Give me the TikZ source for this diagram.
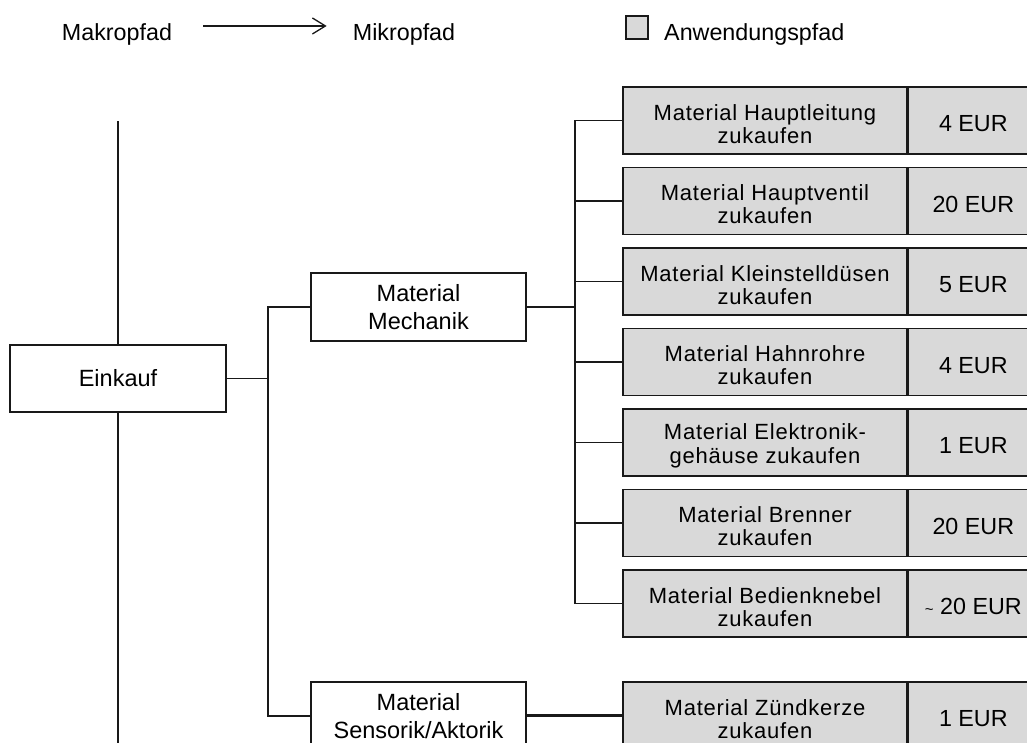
\documentclass[tikz,border=0pt]{standalone}
\usepackage{fontspec}
\setmainfont{Liberation Sans}
\newfontfamily\leaffont[LetterSpace=3.5]{Liberation Sans}
\usetikzlibrary{arrows.meta,calc}

\definecolor{pathgray}{RGB}{217,217,217}
\definecolor{edge}{RGB}{25,25,25}

\begin{document}
\begin{tikzpicture}[x=1pt,y=-1pt,
  conn/.style={draw=edge,line width=1.3pt},
  mainconn/.style={draw=edge,line width=2.2pt},
  frame/.style={draw=edge,line width=1.3pt,fill=white,minimum width=216pt,
    minimum height=67pt,inner sep=0pt,align=center,
    font=\fontsize{23.5}{27.7}\selectfont},
  leaf/.style={draw=edge,line width=1.3pt,fill=pathgray,minimum width=284pt,
    minimum height=67pt,inner sep=0pt,align=center,
    font=\leaffont\fontsize{22}{23.3}\selectfont,
    execute at begin node={\rule{0pt}{46pt}}},
  cost/.style={draw=edge,line width=1.3pt,fill=pathgray,minimum width=130pt,
    minimum height=67pt,inner sep=0pt,anchor=west,
    font=\fontsize{23.3}{26}\selectfont,
    execute at begin node={\rule{0pt}{22.7pt}}},
  legendtext/.style={font=\fontsize{23.3}{26}\selectfont,anchor=base,inner sep=0pt}
]
\clip (0,0) rectangle (1027,742);
\fill[white] (0,0) rectangle (1027,742);

% legend
\node[legendtext] (mak) at (117,40) {Makropfad};
\node[legendtext] (mik) at (404,40) {Mikropfad};
\node[draw=edge,line width=1.3pt,fill=pathgray,minimum width=22pt,minimum height=23pt,inner sep=0pt] (legbox) at (637,27.5) {};
\node[legendtext,anchor=base west] (anw) at (664,40) {Anwendungspfad};
\draw[conn,-{Straight Barb[length=13pt,width=16pt,line width=1.3pt]},
  shorten <=31pt,shorten >=26pt] ($(mak.east)+(0,-8)$) -- ($(mik.west)+(0,-8)$);

% macro level
\node[frame] (einkauf) at (118,378.5) {Einkauf};
\coordinate (upper) at (118,121);
\coordinate (lower) at (118,760);
\draw[conn] (einkauf.north) -- (upper);
\draw[conn] (einkauf.south) -- (lower);

\node[frame,minimum width=215pt,minimum height=68pt] (mech) at (418.5,307) {Material\\Mechanik};
\node[frame,minimum width=215pt,minimum height=68pt] (sens) at (418.5,716) {Material\\Sensorik/Aktorik};

\coordinate (busA) at (268,378.5);
\draw[conn] (einkauf.east) -- (busA);
\draw[conn] (busA) |- (mech.west);
\draw[conn] (busA) |- (sens.west);

% micro level: mechanics
\node[leaf] (l1) at (765,120.5) {Material Hauptleitung\\zukaufen};
\node[leaf] (l2) at (765,201)   {Material Hauptventil\\zukaufen};
\node[leaf] (l3) at (765,281.5) {Material Kleinstelldüsen\\zukaufen};
\node[leaf] (l4) at (765,362)   {Material Hahnrohre\\zukaufen};
\node[leaf] (l5) at (765,442.5) {Material Elektronik-\\gehäuse zukaufen};
\node[leaf] (l6) at (765,523)   {Material Brenner\\zukaufen};
\node[leaf] (l7) at (765,603.5) {Material Bedienknebel\\zukaufen};
\node[leaf] (l8) at (765,715.5) {Material Zündkerze\\zukaufen};

\node[cost] (c1) at (l1.east) {4 EUR};
\node[cost] (c2) at (l2.east) {20 EUR};
\node[cost] (c3) at (l3.east) {5 EUR};
\node[cost] (c4) at (l4.east) {4 EUR};
\node[cost] (c5) at (l5.east) {1 EUR};
\node[cost] (c6) at (l6.east) {20 EUR};
\node[cost] (c7) at (l7.east) {{\fontsize{15}{15}\selectfont\textasciitilde} 20 EUR};
\node[cost] (c8) at (l8.east) {1 EUR};

\coordinate (busB) at (575,307);
\draw[mainconn] (mech.east) -- (busB);
\draw[conn] (busB) |- (l1.west);
\foreach \n in {l2,l3,l4,l5,l6,l7}
  \draw[conn] (busB) |- (\n.west);

\draw[mainconn] (sens.east |- l8.west) -- (l8.west);
\end{tikzpicture}
\end{document}
